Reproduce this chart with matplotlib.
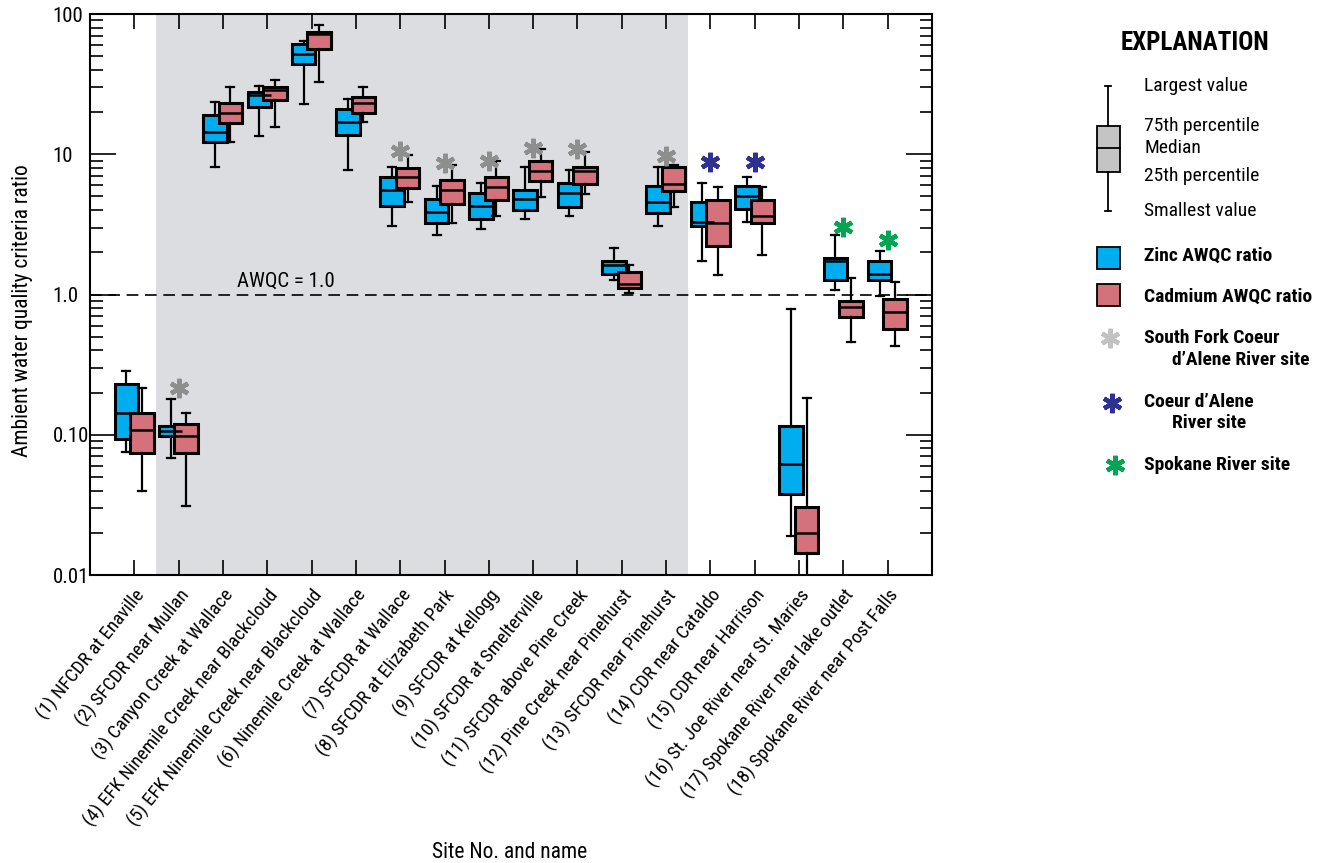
import matplotlib
matplotlib.use('Agg')
import matplotlib.pyplot as plt
from matplotlib import font_manager
from matplotlib.patches import Rectangle
from matplotlib.transforms import ScaledTranslation
from matplotlib.ticker import FixedLocator, LogLocator, NullFormatter

# pick a narrow sans face if one is available
_fonts = font_manager.fontManager.ttflist
_names = {f.name for f in _fonts}
_stretch = 'normal'
_family = 'DejaVu Sans'
for cand in ['Liberation Sans Narrow', 'Roboto Condensed', 'Open Sans Condensed', 'Noto Sans Condensed']:
    if cand in _names:
        _family = cand
        break
else:
    if any(f.name == 'DejaVu Sans' and f.stretch == 'condensed' for f in _fonts):
        _stretch = 'condensed'

plt.rcParams['font.family'] = [_family, 'DejaVu Sans']
plt.rcParams['font.stretch'] = _stretch
plt.rcParams['font.size'] = 13.5

# Site names
sites = [
    '(1) NFCDR at Enaville',
    '(2) SFCDR near Mullan',
    '(3) Canyon Creek at Wallace',
    '(4) EFK Ninemile Creek near Blackcloud',
    '(5) EFK Ninemile Creek near Blackcloud',
    '(6) Ninemile Creek at Wallace',
    '(7) SFCDR at Wallace',
    '(8) SFCDR at Elizabeth Park',
    '(9) SFCDR at Kellogg',
    '(10) SFCDR at Smelterville',
    '(11) SFCDR above Pine Creek',
    '(12) Pine Creek near Pinehurst',
    '(13) SFCDR near Pinehurst',
    '(14) CDR near Cataldo',
    '(15) CDR near Harrison',
    '(16) St. Joe River near St. Maries',
    '(17) Spokane River near lake outlet',
    '(18) Spokane River near Post Falls',
]

# Zinc AWQC ratio summary statistics
zinc_low = [0.0754, 0.0687, 8.1, 13.4, 22.7, 7.66, 3.1, 2.66, 2.95, 3.46, 3.64, 1.27, 3.1, 1.73, 3.31, 0.0189, 1.08, 0.976]
zinc_q1 = [0.094, 0.098, 12.2, 21.9, 44.1, 13.7, 4.27, 3.26, 3.46, 4.03, 4.24, 1.40, 3.84, 3.1, 4.06, 0.038, 1.27, 1.27]
zinc_med = [0.143, 0.106, 14.5, 26.3, 52.2, 17.1, 5.58, 3.86, 4.29, 4.79, 5.31, 1.63, 4.53, 3.31, 5.05, 0.0615, 1.74, 1.40]
zinc_q3 = [0.231, 0.1156, 18.9, 27.6, 61.3, 21.1, 6.91, 4.79, 5.31, 5.58, 6.23, 1.73, 5.89, 4.53, 5.89, 0.1156, 1.83, 1.73]
zinc_high = [0.286, 0.179, 23.4, 30.5, 63.9, 24.8, 8.1, 5.89, 6.23, 8.1, 7.66, 2.16, 8.1, 6.23, 6.91, 0.784, 2.65, 2.05]

# Cadmium AWQC ratio summary statistics
cad_low = [0.0395, 0.0312, 12.2, 15.6, 32.6, 17.1, 4.53, 3.23, 3.6, 4.95, 5.22, 1.02, 4.24, 1.38, 1.91, 0.005, 0.458, 0.431]
cad_q1 = [0.0746, 0.0746, 16.6, 24.2, 56.7, 19.6, 5.79, 4.43, 4.71, 6.47, 6.12, 1.12, 5.51, 2.23, 3.24, 0.0144, 0.694, 0.57]
cad_med = [0.108, 0.098, 19.8, 28.7, 71.7, 23.2, 6.83, 5.55, 5.83, 7.59, 7.59, 1.19, 6.12, 3.24, 3.6, 0.0199, 0.818, 0.75]
cad_q3 = [0.142, 0.12, 23.2, 30.2, 74.6, 25.7, 8.0, 6.5, 6.83, 8.89, 8.05, 1.45, 8.05, 4.71, 4.68, 0.0304, 0.903, 0.924]
cad_high = [0.216, 0.142, 30.2, 33.7, 83.2, 30.2, 9.8, 8.41, 8.89, 10.9, 10.4, 1.63, 8.41, 5.83, 5.83, 0.183, 1.32, 1.23]

# River-site asterisks: site number, height, group
star_sites = [2, 7, 8, 9, 10, 11, 13, 14, 15, 17, 18]
star_y = [0.216, 10.5, 8.65, 8.89, 11.1, 10.9, 9.65, 8.74, 8.8, 3.05, 2.45]
star_group = ['sf', 'sf', 'sf', 'sf', 'sf', 'sf', 'sf', 'cda', 'cda', 'spk', 'spk']

ZINC = '#00AEEF'
CAD = '#D4717A'
SHADE = '#DCDDE0'
star_colors = {'sf': '#8E8E8E', 'cda': '#2E3192', 'spk': '#00A651'}

fig = plt.figure(figsize=(13.2, 8.63), dpi=100)
ax = fig.add_axes([90 / 1320, 1 - 575 / 863, 842 / 1320, 561 / 863])

positions = list(range(1, len(sites) + 1))


def make_stats(low, q1, med, q3, high):
    return [dict(whislo=a, q1=b, med=c, q3=d, whishi=e, fliers=[])
            for a, b, c, d, e in zip(low, q1, med, q3, high)]


def draw_boxes(stats, offset, color):
    ax.bxp(stats, positions=[p + offset for p in positions], widths=0.53,
           patch_artist=True, showfliers=False, manage_ticks=False,
           capwidths=0.18,
           boxprops=dict(facecolor=color, edgecolor='black', linewidth=2.2),
           medianprops=dict(color='black', linewidth=1.8),
           whiskerprops=dict(color='black', linewidth=1.6),
           capprops=dict(color='black', linewidth=1.6))


ax.axvspan(1.5, 13.5, color=SHADE, zorder=0, lw=0)
ax.axhline(1.0, color='black', lw=1.2, dashes=(7, 4), zorder=1)
ax.text(4.42, 1.07, 'AWQC = 1.0', ha='center', va='bottom', fontsize=15)

draw_boxes(make_stats(zinc_low, zinc_q1, zinc_med, zinc_q3, zinc_high), -0.18, ZINC)
draw_boxes(make_stats(cad_low, cad_q1, cad_med, cad_q3, cad_high), 0.17, CAD)

for s, y, g in zip(star_sites, star_y, star_group):
    ax.plot(s, y, marker=(6, 2, 0), ms=14, mew=3.2, color=star_colors[g], zorder=5)

ax.set_yscale('log')
ax.set_ylim(0.01, 100)
ax.set_xlim(0, 19)
ax.yaxis.set_major_locator(FixedLocator([0.01, 0.1, 1, 10, 100]))
ax.set_yticklabels(['0.01', '0.10', '1.0', '10', '100'])
for lab in ax.get_yticklabels():
    lab.set_horizontalalignment('left')
ax.yaxis.set_minor_locator(LogLocator(base=10, subs=range(2, 10)))
ax.yaxis.set_minor_formatter(NullFormatter())
ax.set_xticks(positions)
ax.set_xticklabels(sites, rotation=51, ha='right', va='top', rotation_mode='anchor')
shift = ScaledTranslation(10 / 100, 2 / 100, fig.dpi_scale_trans)
for lab in ax.get_xticklabels():
    lab.set_transform(lab.get_transform() + shift)

ax.tick_params(axis='y', which='major', direction='in', length=19, width=1.2,
               left=True, right=True, pad=27, labelsize=15)
ax.tick_params(axis='y', which='minor', direction='in', length=9, width=1.2,
               left=True, right=True)
ax.tick_params(axis='x', direction='in', length=11, width=1.2, top=True, bottom=True,
               pad=8, labelsize=13.8)
for sp in ax.spines.values():
    sp.set_linewidth(1.5)

ax.set_ylabel('Ambient water quality criteria ratio', fontsize=15.5)
ax.yaxis.set_label_coords(-57 / 842, 0.472)
fig.text(510 / 1320, 1 - 852 / 863, 'Site No. and name', ha='center', va='center', fontsize=15.5)

# Explanation panel, drawn on an overlay in pixel units
lg = fig.add_axes([0, 0, 1, 1], facecolor='none')
lg.set_xlim(0, 1320)
lg.set_ylim(863, 0)
lg.axis('off')

lg.text(1195, 43, 'EXPLANATION', ha='center', va='center', fontsize=18, fontweight='bold')

# sample box
lg.plot([1108, 1108], [86, 126], color='black', lw=1.3)
lg.plot([1108, 1108], [172, 211], color='black', lw=1.3)
lg.plot([1105, 1111], [86, 86], color='black', lw=1.3)
lg.plot([1105, 1111], [211, 211], color='black', lw=1.3)
lg.add_patch(Rectangle((1097, 126), 23, 46, facecolor='#C4C4C4', edgecolor='black', lw=1.3))
lg.plot([1097, 1120], [148, 148], color='black', lw=1.3)

box_labels = ['Largest value', '75th percentile', 'Median', '25th percentile', 'Smallest value']
for txt, yy in zip(box_labels, [86, 126, 148, 176, 211]):
    lg.text(1144, yy, txt, ha='left', va='center', fontsize=14)

lg.add_patch(Rectangle((1097, 247), 23, 22, facecolor=ZINC, edgecolor='black', lw=1.3))
lg.text(1144, 256, 'Zinc AWQC ratio', ha='left', va='center', fontsize=14, fontweight='bold')
lg.add_patch(Rectangle((1097, 284), 23, 22, facecolor=CAD, edgecolor='black', lw=1.3))
lg.text(1144, 297, 'Cadmium AWQC ratio', ha='left', va='center', fontsize=14, fontweight='bold')

lg.plot(1110, 338, marker=(6, 2, 0), ms=14, mew=3.2, color='#C2C2C2')
lg.text(1144, 338, 'South Fork Coeur', ha='left', va='center', fontsize=14, fontweight='bold')
lg.text(1172, 360, 'd\u2019Alene River site', ha='left', va='center', fontsize=14, fontweight='bold')

lg.plot(1112, 403, marker=(6, 2, 0), ms=14, mew=3.2, color=star_colors['cda'])
lg.text(1144, 402, 'Coeur d\u2019Alene', ha='left', va='center', fontsize=14, fontweight='bold')
lg.text(1172, 423, 'River site', ha='left', va='center', fontsize=14, fontweight='bold')

lg.plot(1115, 465, marker=(6, 2, 0), ms=14, mew=3.2, color=star_colors['spk'])
lg.text(1144, 465, 'Spokane River site', ha='left', va='center', fontsize=14, fontweight='bold')

fig.savefig('out.png', dpi=100)
